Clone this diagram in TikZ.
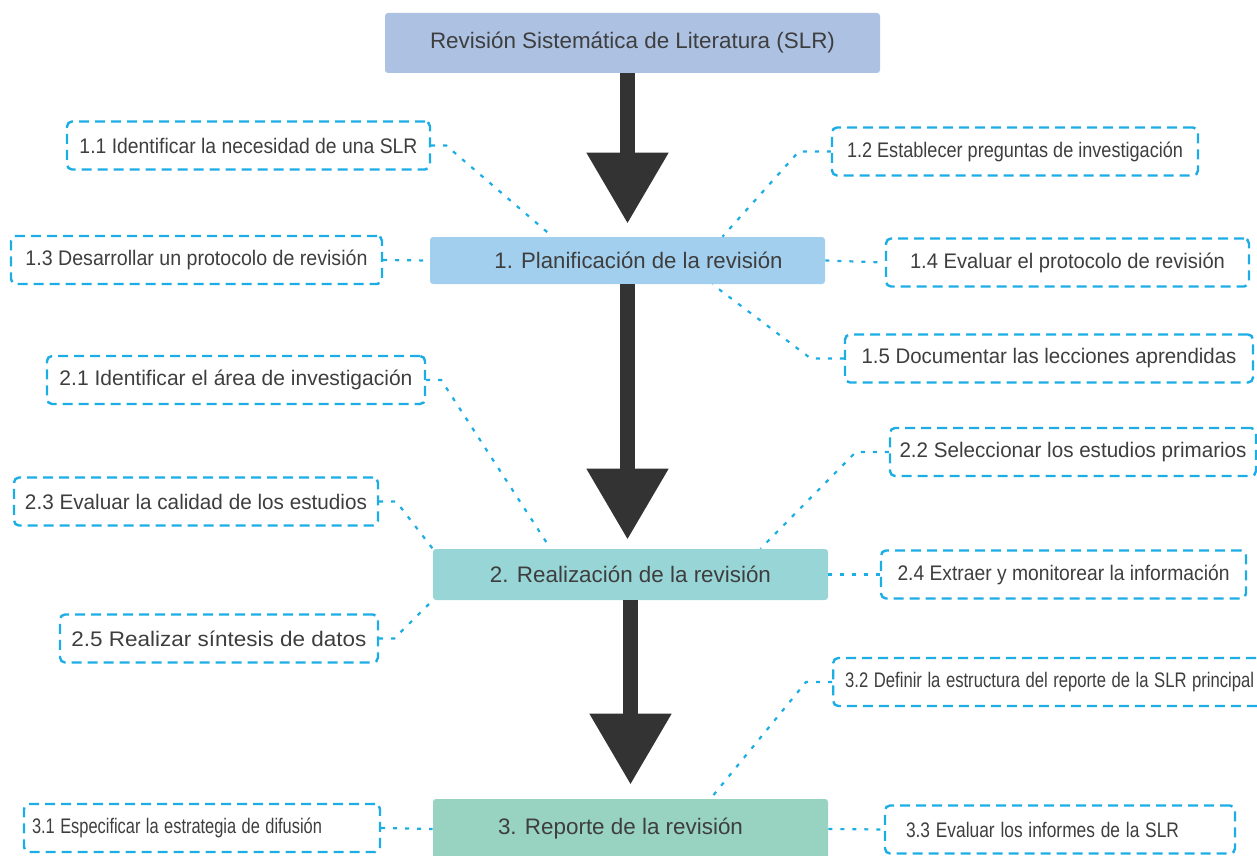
\documentclass[tikz,border=0pt]{standalone}
\usepackage{fontspec}
\setmainfont{Liberation Sans}
\usepackage{graphicx}
\usetikzlibrary{arrows.meta,calc}
\definecolor{linkblue}{HTML}{1CADE4}
\definecolor{ink}{HTML}{3E3E3E}
\definecolor{arrowgray}{HTML}{333333}
\definecolor{slrfill}{HTML}{ADC2E3}
\definecolor{planfill}{HTML}{A3CFEE}
\definecolor{realfill}{HTML}{98D5D6}
\definecolor{repfill}{HTML}{98D3C1}
\newlength\pxu
\setlength\pxu{0.02cm}
\newcommand\fitw[2]{\resizebox{#1\pxu}{\height}{#2}}
\tikzset{stage/.style={rectangle, rounded corners=3\pxu, minimum width=395\pxu, minimum height=48\pxu, text=ink, font=\fontsize{12.75}{15}\selectfont},
  task/.style={rectangle, draw=linkblue, line width=2.4\pxu, dash pattern=on 10\pxu off 6\pxu, rounded corners=5\pxu, minimum height=48\pxu, inner sep=2\pxu, text=ink, font=\fontsize{12}{14}\selectfont},
  link/.style={draw=linkblue, line width=2.2\pxu, dash pattern=on 4\pxu off 8\pxu},
  flow/.style={draw=arrowgray, fill=arrowgray, line width=15\pxu, -{Triangle[width=1.56cm,length=1.42cm]}}}
\begin{document}
\begin{tikzpicture}[x=0.02cm, y=-0.02cm]
  \useasboundingbox (0,0) rectangle (1257,855);
  \clip (0,0) rectangle (1257,855);
  \node [stage, fill=slrfill, minimum width=495\pxu, minimum height=60\pxu] (slr) at (632.5,43) {\fitw{405}{Revisión Sistemática de Literatura (SLR)}};
  \node [stage, fill=planfill, minimum height=47\pxu] (p1) at (627.5,260.5) {\kern22\pxu\fitw{288}{1. Planificación de la revisión}};
  \node [stage, fill=realfill, minimum height=51\pxu] (p2) at (630.5,574.5) {\fitw{281}{2. Realización de la revisión}};
  \node [stage, fill=repfill, minimum height=60\pxu] (p3) at (630.5,829) {\fitw{245}{3. Reporte de la revisión}\kern20\pxu};

  \draw [flow, shorten >=13\pxu] (p1.north |- slr.south) -- (p1.north);
  \draw [flow, shorten >=9\pxu] (p1.south) -- (p1.south |- p2.north);
  \draw [flow, shorten >=14\pxu] (p2.south) -- (p2.south |- p3.north);

  \node [task, minimum width=363\pxu] (b11) at (248.5,145.5) {\fitw{338}{1.1 Identificar la necesidad de una SLR}};
  \node [task, minimum width=366\pxu] (b12) at (1015,151.5) {\fitw{336}{1.2 Establecer preguntas de investigación}};
  \node [task, minimum width=371\pxu] (b13) at (196.5,260) {\fitw{342}{1.3 Desarrollar un protocolo de revisión}};
  \node [task, minimum width=363\pxu] (b14) at (1067.5,262.5) {\fitw{315}{1.4 Evaluar el protocolo de revisión}};
  \node [task, minimum width=408\pxu] (b15) at (1049,358.5) {\fitw{375}{1.5 Documentar las lecciones aprendidas}};
  \node [task, minimum width=378\pxu] (b21) at (236,380) {\fitw{353}{2.1 Identificar el área de investigación}};
  \node [task, minimum width=366\pxu] (b22) at (1073,452) {\fitw{347}{2.2 Seleccionar los estudios primarios}};
  \node [task, minimum width=364\pxu] (b23) at (196,501.5) {\fitw{342}{2.3 Evaluar la calidad de los estudios}};
  \node [task, minimum width=365\pxu] (b24) at (1063.5,574.5) {\fitw{332}{2.4 Extraer y monitorear la información}};
  \node [task, minimum width=318\pxu] (b25) at (219,638.5) {\fitw{295}{2.5 Realizar síntesis de datos}};
  \node [task, anchor=west, text width=420\pxu, inner xsep=12\pxu, align=left] (b32) at (832,682) {\fitw{409}{3.2 Definir la estructura del reporte de la SLR principal}};
  \node [task, text width=340\pxu, inner xsep=8\pxu, align=left] (b31) at (202,828) {\fitw{290}{3.1 Especificar la estrategia de difusión}};
  \node [task, text width=308\pxu, inner xsep=21\pxu, align=left] (b33) at (1060,829.5) {\fitw{273}{3.3 Evaluar los informes de la SLR}};

  \draw [link] (b11.east) -- ++(15,0) -- ($(p1.north)+(-75,0)$);
  \draw [link] (b12.west) -- ++(-32,0) -- ($(p1.north)+(95,0)$);
  \draw [link] (b13.east) -- (p1.west);
  \draw [link] (p1.east) -- (b14.west);
  \draw [link] (b15.west) -- ++(-33,0) -- ($(p1.south)+(85,0)$);
  \draw [link] (b21.east) -- ++(15,0) -- ($(p2.north)+(-80,0)$);
  \draw [link] (b22.west) -- ++(-33,0) -- ($(p2.north)+(130,0)$);
  \draw [link] (b23.east) -- ++(17,0) -- (p2.north west);
  \draw [link] (p2.east) -- (b24.west);
  \draw [link] (b25.east) -- ++(15,0) -- (p2.south west);
  \draw [link] (b32.west) -- ++(-26,0) -- ($(p3.north)+(80,0)$);
  \draw [link] (b31.east) -- (p3.west);
  \draw [link] (p3.east) -- (b33.west);
\end{tikzpicture}
\end{document}
